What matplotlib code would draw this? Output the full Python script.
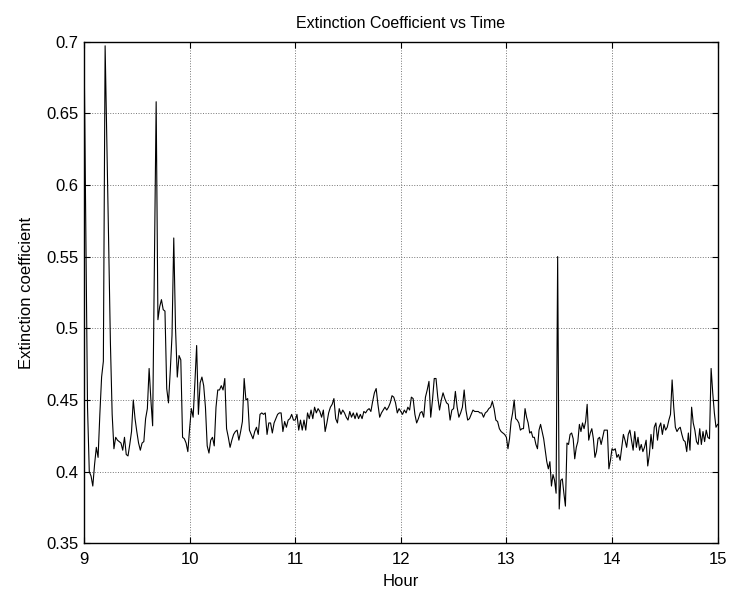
import numpy as np
import matplotlib
matplotlib.use("Agg")
import matplotlib.pyplot as plt

plt.rcParams['font.family'] = ['Liberation Sans', 'DejaVu Sans']

# Extinction coefficient readings, one list per hour
hour_09 = [0.700, 0.575, 0.445, 0.400, 0.397, 0.390, 0.405, 0.417, 0.410, 0.440,
           0.466, 0.477, 0.697, 0.630, 0.560, 0.490, 0.440, 0.416, 0.424, 0.422,
           0.421, 0.420, 0.415, 0.424, 0.412, 0.411, 0.419, 0.428, 0.450, 0.437,
           0.428, 0.420, 0.415, 0.420, 0.421, 0.437, 0.444, 0.472, 0.450, 0.432,
           0.545, 0.658, 0.506, 0.515, 0.520, 0.513, 0.512, 0.458, 0.448, 0.470,
           0.495, 0.563, 0.500, 0.466, 0.481, 0.478, 0.424, 0.423, 0.420, 0.414]
hour_10 = [0.430, 0.444, 0.438, 0.462, 0.488, 0.440, 0.462, 0.466, 0.460, 0.445,
           0.418, 0.413, 0.422, 0.424, 0.418, 0.445, 0.457, 0.457, 0.460, 0.457,
           0.465, 0.430, 0.424, 0.417, 0.422, 0.426, 0.428, 0.429, 0.422, 0.428,
           0.435, 0.465, 0.450, 0.451, 0.429, 0.426, 0.423, 0.428, 0.431, 0.426,
           0.440, 0.441, 0.440, 0.441, 0.426, 0.434, 0.434, 0.427, 0.434, 0.437,
           0.440, 0.441, 0.441, 0.428, 0.435, 0.431, 0.436, 0.437, 0.440, 0.436]
hour_11 = [0.436, 0.440, 0.429, 0.436, 0.429, 0.436, 0.429, 0.441, 0.437, 0.443,
           0.437, 0.445, 0.441, 0.444, 0.442, 0.438, 0.443, 0.428, 0.434, 0.441,
           0.445, 0.447, 0.451, 0.437, 0.434, 0.444, 0.440, 0.443, 0.441, 0.438,
           0.436, 0.442, 0.438, 0.441, 0.437, 0.441, 0.437, 0.440, 0.437, 0.442,
           0.441, 0.443, 0.444, 0.442, 0.449, 0.455, 0.458, 0.447, 0.438, 0.441,
           0.443, 0.445, 0.443, 0.445, 0.448, 0.453, 0.452, 0.448, 0.441, 0.444]
hour_12 = [0.442, 0.440, 0.443, 0.441, 0.445, 0.443, 0.452, 0.451, 0.440, 0.434,
           0.437, 0.441, 0.442, 0.438, 0.452, 0.457, 0.463, 0.438, 0.450, 0.465,
           0.465, 0.452, 0.443, 0.450, 0.455, 0.451, 0.448, 0.447, 0.436, 0.443,
           0.444, 0.456, 0.445, 0.438, 0.441, 0.445, 0.457, 0.443, 0.436, 0.437,
           0.440, 0.443, 0.442, 0.442, 0.442, 0.441, 0.441, 0.438, 0.441, 0.442,
           0.444, 0.445, 0.449, 0.444, 0.436, 0.435, 0.430, 0.428, 0.427, 0.426]
hour_13 = [0.424, 0.416, 0.423, 0.435, 0.441, 0.450, 0.437, 0.436, 0.434, 0.429,
           0.430, 0.430, 0.444, 0.438, 0.434, 0.427, 0.428, 0.424, 0.424, 0.419,
           0.416, 0.429, 0.433, 0.428, 0.423, 0.415, 0.407, 0.402, 0.407, 0.390,
           0.398, 0.394, 0.385, 0.550, 0.374, 0.394, 0.395, 0.385, 0.376, 0.420,
           0.419, 0.426, 0.427, 0.423, 0.409, 0.417, 0.421, 0.433, 0.428, 0.434,
           0.430, 0.435, 0.447, 0.422, 0.427, 0.430, 0.423, 0.410, 0.414, 0.423,
           0.424, 0.419, 0.424, 0.429, 0.429, 0.429, 0.402, 0.408]
hour_14 = [0.416, 0.415, 0.416, 0.410, 0.412, 0.408, 0.417, 0.426, 0.422, 0.417,
           0.426, 0.429, 0.422, 0.415, 0.428, 0.417, 0.424, 0.415, 0.419, 0.414,
           0.417, 0.422, 0.404, 0.412, 0.426, 0.416, 0.431, 0.434, 0.422, 0.431,
           0.434, 0.426, 0.433, 0.429, 0.431, 0.436, 0.440, 0.464, 0.445, 0.431,
           0.428, 0.430, 0.431, 0.426, 0.422, 0.421, 0.414, 0.427, 0.415, 0.445,
           0.434, 0.429, 0.421, 0.419, 0.430, 0.419, 0.428, 0.421, 0.429, 0.424,
           0.423, 0.472, 0.455, 0.441, 0.431, 0.433]

hour_starts = [9, 10, 11, 12, 13, 14]
hour_lists = [hour_09, hour_10, hour_11, hour_12, hour_13, hour_14]

x_ticks = [9, 10, 11, 12, 13, 14, 15]
y_ticks = [0.35, 0.4, 0.45, 0.5, 0.55, 0.6, 0.65, 0.7]
y_tick_labels = ['0.35', '0.4', '0.45', '0.5', '0.55', '0.6', '0.65', '0.7']

times = []
values = []
for i, (h, vals) in enumerate(zip(hour_starts, hour_lists)):
    last = (i == len(hour_lists) - 1)
    t = np.linspace(h, h + 1, len(vals), endpoint=last)
    times.extend(t)
    values.extend(vals)
times = np.array(times)
values = np.array(values)

fig = plt.figure(figsize=(7.33, 5.99), dpi=100)
fig.patch.set_facecolor('white')
ax = fig.add_axes([0.1146, 0.0928, 0.8644, 0.8379])

ax.plot(times, values, color='black', linewidth=0.8)

ax.set_xlim(9, 15)
ax.set_ylim(0.35, 0.7)
ax.set_xticks(x_ticks)
ax.set_xticklabels([str(v) for v in x_ticks])
ax.set_yticks(y_ticks)
ax.set_yticklabels(y_tick_labels)

ax.grid(True, linestyle=':', color='#777777', linewidth=0.7)
ax.tick_params(direction='in', length=4, width=0.8, top=True, right=True,
               labelsize=12, colors='black')
ax.tick_params(axis='x', pad=6)
ax.tick_params(axis='y', pad=4)
for s in ax.spines.values():
    s.set_linewidth(1.0)
    s.set_color('black')

ax.set_title('Extinction Coefficient vs Time', fontsize=11.5, pad=10)
ax.set_xlabel('Hour', fontsize=12, labelpad=5)
ax.set_ylabel('Extinction coefficient', fontsize=12, labelpad=9)

fig.savefig('out.png', dpi=100, facecolor='white')
